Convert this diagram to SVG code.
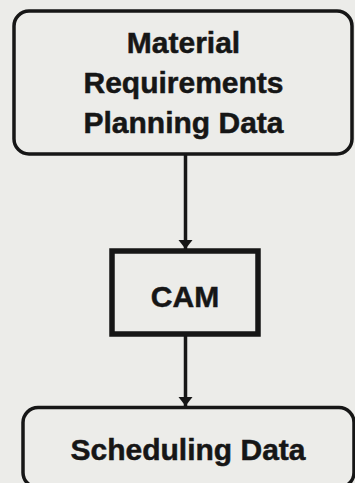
<svg xmlns="http://www.w3.org/2000/svg" width="355" height="483" viewBox="0 0 355 483">
  <defs>
    <!-- arrowhead drawn pointing along +x so orient="auto" turns it with the line -->
    <marker id="arrow" markerUnits="userSpaceOnUse" markerWidth="12" markerHeight="16" refX="10" refY="8" orient="auto" viewBox="0 0 12 16">
      <path d="M1,1 L10,8 L1,15 Z" fill="#161616"/>
    </marker>
  </defs>
  <style>
    .bg { fill: #ecece9; }
    .box { fill: none; stroke: #161616; stroke-width: 3.5; }
    .proc { fill: none; stroke: #161616; stroke-width: 5.5; }
    .lbl { font-family: "Liberation Sans", Arial, sans-serif; font-weight: bold; font-size: 30px; fill: #161616; stroke: #161616; stroke-width: 0.5; text-anchor: middle; }
    .edge { fill: none; stroke: #161616; stroke-width: 3.5; marker-end: url(#arrow); }
  </style>
  <rect class="bg" x="0" y="0" width="355" height="483"/>

  <g id="connectors">
    <line class="edge" x1="185.5" y1="155" x2="185.5" y2="249"/>
    <line class="edge" x1="185.5" y1="336" x2="185.5" y2="406"/>
  </g>

  <g id="mrp-data">
    <rect class="box" x="14" y="11" width="338" height="143" rx="15" ry="15"/>
    <text class="lbl" x="183.5" y="53">Material</text>
    <text class="lbl" x="183.5" y="93">Requirements</text>
    <text class="lbl" x="183.5" y="133">Planning Data</text>
  </g>

  <g id="cam">
    <rect class="proc" x="112" y="251" width="146" height="83"/>
    <text class="lbl" x="185" y="307">CAM</text>
  </g>

  <g id="scheduling-data">
    <rect class="box" x="23" y="407.5" width="331" height="80" rx="15" ry="15"/>
    <text class="lbl" x="188" y="460">Scheduling Data</text>
  </g>
</svg>
